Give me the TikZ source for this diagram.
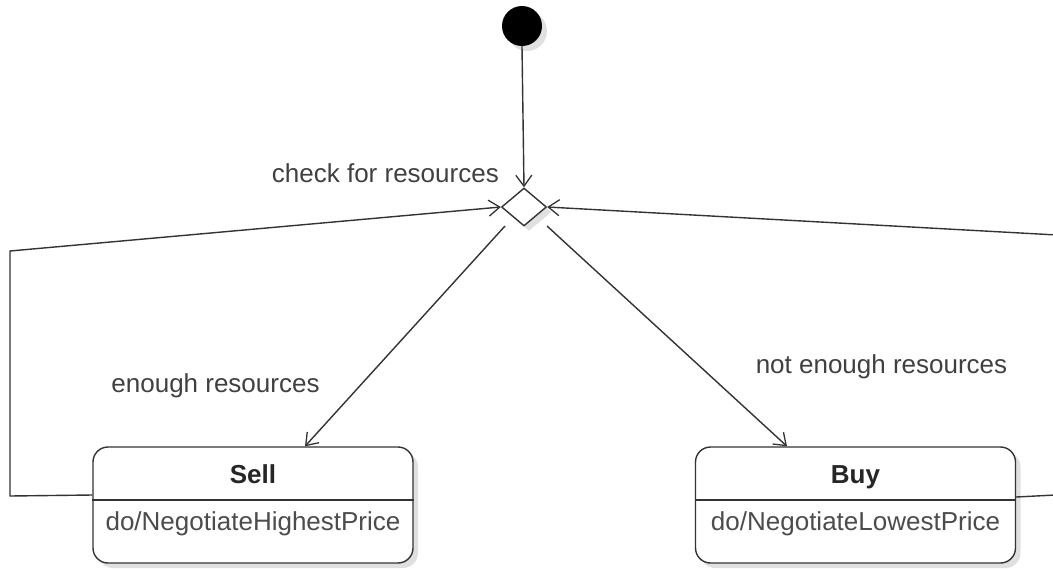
\documentclass[tikz,border=0pt]{standalone}
\usepackage{fontspec}
\setmainfont{Liberation Sans}
\usetikzlibrary{arrows.meta,shapes.geometric,shadows}

\begin{document}
\begin{tikzpicture}[x=1pt, y=-1pt,
    line/.style={draw=black!80, line width=1.4pt},
    flow/.style={line, -{Straight Barb[length=11pt, width=16pt, line width=1.3pt]}},
    shade/.style={drop shadow={shadow xshift=5pt, shadow yshift=-5pt, fill=black!12, opacity=1}},
    statebox/.style={line, rounded corners=15pt, minimum width=320pt, minimum height=116pt, fill=white, shade},
    label/.style={text=black!75, font=\fontsize{26}{30}\selectfont, inner sep=0pt, anchor=base},
    title/.style={text=black!85, font=\fontsize{26}{30}\selectfont\bfseries, inner sep=0pt, anchor=base},
    action/.style={text=black!70, font=\fontsize{26}{30}\selectfont, inner sep=0pt, anchor=base}]
    \useasboundingbox (0, 0) rectangle (1053, 571);
    \clip (0, 0) rectangle (1053, 571);

    \node[circle, fill=black, minimum size=40pt, inner sep=0pt, shade] (init) at (522, 26) {};
    \node[diamond, line, fill=white, minimum width=45pt, minimum height=38pt, inner sep=0pt, shade] (check) at (524, 207) {};

    \node[statebox] (sell) at (253, 505) {};
    \node[statebox] (buy) at (855.5, 505) {};
    \draw[line] (sell.west |- 0, 500) -- (sell.east |- 0, 500);
    \draw[line] (buy.west |- 0, 500) -- (buy.east |- 0, 500);
    \node[title] (selltitle) at (253, 483) {Sell};
    \node[title] (buytitle) at (855.5, 483) {Buy};
    \node[action] (sellact) at (253, 530) {do/NegotiateHighestPrice};
    \node[action] (buyact) at (855.5, 530) {do/NegotiateLowestPrice};

    \node[label, anchor=base east] (checklabel) at (499, 182) {check for resources};
    \node[label] (enoughlabel) at (215.5, 392) {enough resources};
    \node[label] (notenoughlabel) at (881.5, 373) {not enough resources};

    % transitions
    \draw[flow] (init.south) -- (check.north);
    \draw[flow] ([shift={(-19, 19)}]check.center) -- ([xshift=52pt]sell.north);
    \draw[flow] ([shift={(23, 19)}]check.center) -- ([xshift=-68.5pt]buy.north);

    % loops back to the decision
    \draw[flow] ([yshift=10pt]sell.west) -- (10, 496) -- (10, 251) -- (check.west);
    \draw[flow] ([yshift=8pt]buy.east) -- (1075, 494) -- (1075, 236) -- (check.east);
\end{tikzpicture}
\end{document}
